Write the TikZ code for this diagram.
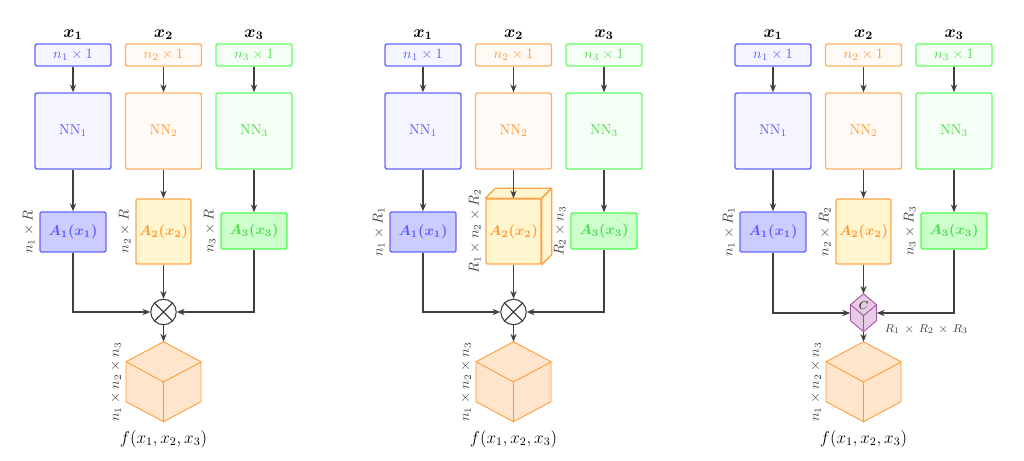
\documentclass[tikz,border=0pt]{standalone}
\usepackage{amsmath}
\usetikzlibrary{positioning}
\usetikzlibrary{arrows.meta}
\definecolor{darkgrey}{HTML}{404040}
\definecolor{softyellow}{HTML}{FFF6D0}
\definecolor{textgreen}{HTML}{4CDC4C}
\tikzset{
  % input vectors and networks
  vecbox/.style={draw, line width=1pt, rounded corners=1.5pt, minimum width=53.2pt, minimum height=15.4pt, inner sep=0pt},
  netbox/.style={draw, line width=1pt, rounded corners=1.5pt, minimum width=53.2pt, minimum height=53.2pt},
  % factor matrices
  factor/.style={draw, line width=1pt, rounded corners=1pt, inner sep=0pt, font=\boldmath},
  % one colour per input
  first/.style={draw=blue!60, text=blue!65},
  second/.style={draw=orange!60, text=orange!80},
  third/.style={draw=green!60, text=textgreen},
  % sizes written beside a block
  dims/.style={rotate=90, anchor=south, inner sep=1pt, text=darkgrey},
  flow/.style={-{Stealth[length=5.5pt,width=4.4pt]}, draw=darkgrey, line width=0.75pt},
  prod/.style={draw=darkgrey, circle, fill=white, minimum size=17.8pt, inner sep=0pt, line width=0.75pt},
  % tensors drawn as cubes
  tensor/.style={draw=orange!80, fill=orange!20, line join=round, semithick},
  core/.style={draw=violet!70, fill=violet!20, line join=round, semithick},
  slab/.style={draw=orange!70, fill=softyellow, line width=1pt, line join=round},
}
\begin{document}
\begin{tikzpicture}[x=0.7pt, y=-0.7pt]
  \useasboundingbox (0,0) rectangle (1024,461);
  \foreach \p/\dx/\da/\db/\dc in {a/0/{n_1\times R}/{n_2\times R}/{n_3\times R},
      b/350/{n_1\times R_1}/{R_1\times n_2\times R_2}/{R_2\times n_3},
      c/700/{n_1\times R_1}/{n_2\times R_2}/{n_3\times R_3}}{
    \begin{scope}[shift={(\dx,0)}]
      % inputs
      \node[vecbox, first, fill=blue!4] (in1\p) at (73,55) {$n_1\times 1$};
      \node[vecbox, second, fill=orange!4] (in2\p) at (163.5,55) {$n_2\times 1$};
      \node[vecbox, third, fill=green!4] (in3\p) at (254,55) {$n_3\times 1$};
      \node[font=\large\boldmath, above=-1pt of in1\p] (x1\p) {$x_1$};
      \node[font=\large\boldmath, above=-1pt of in2\p] (x2\p) {$x_2$};
      \node[font=\large\boldmath, above=-1pt of in3\p] (x3\p) {$x_3$};
      % networks
      \node[netbox, first, fill=blue!4] (nn1\p) at (73,131) {NN$_1$};
      \node[netbox, second, fill=orange!4] (nn2\p) at (163.5,131) {NN$_2$};
      \node[netbox, third, fill=green!4] (nn3\p) at (254,131) {NN$_3$};
      % factors
      \node[factor, first, fill=blue!20, minimum width=46.2pt, minimum height=28pt] (A1\p) at (73,232) {$A_1(x_1)$};
      \node[factor, second, draw=orange!70, fill=softyellow, minimum width=38.5pt, minimum height=45.5pt] (A2\p) at (163.5,231.5) {$A_2(x_2)$};
      \node[factor, third, draw=green!70, fill=green!20, minimum width=46.2pt, minimum height=25.2pt] (A3\p) at (254,231) {$A_3(x_3)$};
      \node[dims] (d1\p) at ([xshift=-2pt]A1\p.west) {$\da$};
      \node[dims] (d2\p) at ([xshift=-2pt]A2\p.west) {$\db$};
      \node[dims] (d3\p) at ([xshift=-2pt]A3\p.west) {$\dc$};
      % output tensor
      \node[minimum width=52.5pt, minimum height=56pt, inner sep=0pt] (out\p) at (163.5,382) {};
      \draw[tensor] (out\p.north) -- ++(-37.5,20) -- ++(0,40) -- ++(37.5,20) -- ++(37.5,-20) -- ++(0,-40) -- cycle;
      \draw[tensor, fill=none] (out\p.north) ++(-37.5,20) -- (out\p.center) -- ++(37.5,-20) (out\p.center) -- (out\p.south);
      \node[dims] (dout\p) at ([xshift=-2pt]out\p.west) {$n_1\times n_2\times n_3$};
      \node[font=\large, below=2pt of out\p] (f\p) {$f(x_1,x_2,x_3)$};
      \draw[flow] (in1\p) -- (nn1\p);
      \draw[flow] (in2\p) -- (nn2\p);
      \draw[flow] (in3\p) -- (nn3\p);
      \draw[flow] (nn1\p) -- (A1\p);
      \draw[flow] (nn3\p) -- (A3\p);
    \end{scope}
  }
  % A_2 as a third order tensor
  \draw[slab] (A2b.north west) -- ++(10,-10) -- ([shift={(10,-10)}]A2b.north east) -- (A2b.north east) -- cycle;
  \draw[slab] (A2b.north east) -- ++(10,-10) -- ([shift={(10,-10)}]A2b.south east) -- (A2b.south east) -- cycle;
  % products
  \foreach \p/\dx in {a/0, b/350}{
    \node[prod] (mix\p) at (\dx+163.5,312) {};
    \draw[darkgrey, line width=0.75pt] (mix\p.north east) -- (mix\p.south west) (mix\p.north west) -- (mix\p.south east);
  }
  % core tensor
  \node[inner sep=0pt, minimum width=18.2pt, minimum height=26.6pt] (mixc) at (863.5,313) {};
  \draw[core] (mixc.north) -- ++(-13,11) -- ++(0,16) -- ++(13,11) -- ++(13,-11) -- ++(0,-16) -- cycle;
  \draw[core, fill=none] (mixc.north) ++(-13,11) -- ++(13,11) coordinate (cmid) -- ++(13,-11) (cmid) -- (mixc.south);
  \node[inner sep=0pt, font=\footnotesize] (clabel) at ([shift={(0,12)}]mixc.north) {$C$};
  \node[anchor=west, font=\footnotesize, text=darkgrey] (rankc) at ([shift={(3,-3)}]mixc.south east) {$R_1\,\times\,R_2\,\times\,R_3$};
  \foreach \p in {a,b,c}{
    \draw[flow] (nn2\p) -- (A2\p);
    \draw[flow] (A1\p) |- (mix\p);
    \draw[flow] (A3\p) |- (mix\p);
    \draw[flow] (A2\p) -- (mix\p);
    \draw[flow] (mix\p) -- (out\p.north);
  }
\end{tikzpicture}
\end{document}
